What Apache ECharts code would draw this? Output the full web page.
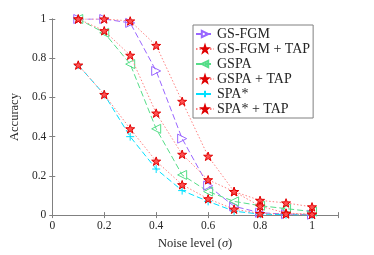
<!DOCTYPE html>
<html><head><meta charset="utf-8">
<script src="https://cdn.jsdelivr.net/npm/echarts@6/dist/echarts.min.js"></script>
<style>html,body{margin:0;padding:0;background:#fff;overflow:hidden}#c{width:374px;height:255px}</style>
</head><body><div id="c"></div>
<script>
const noise = [0.1,0.2,0.3,0.4,0.5,0.6,0.7,0.8,0.9,1.0];
const gsfgm     = [1.0,1.0,0.98,0.735,0.39,0.15,0.045,0.012,0.005,0.002];
const gsfgmTap  = [1.0,1.0,0.99,0.865,0.58,0.30,0.12,0.075,0.062,0.042];
const gspa      = [1.0,0.93,0.77,0.44,0.205,0.12,0.07,0.048,0.033,0.018];
const gspaTap   = [1.0,0.94,0.815,0.52,0.31,0.18,0.12,0.046,0.01,0.005];
const spa       = [0.765,0.615,0.40,0.235,0.125,0.07,0.02,0.005,0.002,0.001];
const spaTap    = [0.765,0.615,0.44,0.275,0.155,0.083,0.03,0.008,0.006,0.004];

const star = 'path://M0,-100L23.5,-32.4L95.1,-30.9L38,12.4L58.8,80.9L0,40L-58.8,80.9L-38,12.4L-95.1,-30.9L-23.5,-32.4Z';
const plus = 'path://M0,-100L0,100M-100,0L100,0';
const pairs = a => noise.map((x,i)=>[x,a[i]]);
const F = 'Liberation Serif, DejaVu Serif, serif';
const txt = '#262626', ax = '#808080';

function tapSeries(name, data){
  return {name, type:'line', data:pairs(data), symbol:star, symbolSize:9, symbolKeepAspect:true,
    lineStyle:{color:'#ff8080', width:1, type:[1.5,2]},
    itemStyle:{color:'#ff5050', borderColor:'#e00000', borderWidth:1}, z:5};
}
const series = [
  {name:'GS-FGM', type:'line', data:pairs(gsfgm), symbol:'triangle', symbolRotate:-90, symbolSize:9,
   lineStyle:{color:'#9966ff', width:1, type:[6,3]},
   itemStyle:{color:'rgba(255,255,255,0)', borderColor:'#9966ff', borderWidth:1}},
  tapSeries('GS-FGM + TAP', gsfgmTap),
  {name:'GSPA', type:'line', data:pairs(gspa), symbol:'triangle', symbolRotate:90, symbolSize:9,
   lineStyle:{color:'#55dd88', width:1, type:[6,3]},
   itemStyle:{color:'rgba(255,255,255,0)', borderColor:'#55dd88', borderWidth:1}},
  tapSeries('GSPA + TAP', gspaTap),
  {name:'SPA*', type:'line', data:pairs(spa), symbol:plus, symbolSize:8,
   lineStyle:{color:'#00e0ff', width:1, type:[6,3]},
   itemStyle:{color:'#00e0ff', borderColor:'#00e0ff', borderWidth:1}},
  tapSeries('SPA* + TAP', spaTap)
];

const chart = echarts.init(document.getElementById('c'), null, {renderer:'canvas'});
const fmt = v => (v > 1.05 ? '' : String(+v.toFixed(1)));
chart.setOption({
  animation:false,
  grid:{left:49, right:36, top:19, bottom:33, show:false},
  legend:{orient:'vertical', left:193, top:25, backgroundColor:'#fff', borderColor:ax, borderWidth:1,
    padding:[2,3,2,2], itemGap:1, itemWidth:18, itemHeight:8,
    textStyle:{fontFamily:F, fontSize:14, color:txt, padding:[0,0,0,-2]},
    data:series.map(s=>s.name)},
  xAxis:[
    {type:'value', min:0, max:1.1, interval:0.2, name:'Noise level ({i|σ})', nameLocation:'middle', nameGap:17,
     nameTextStyle:{fontFamily:F, fontSize:12.5, color:txt, rich:{i:{fontFamily:F, fontStyle:'italic', fontSize:12.5, color:txt}}},
     axisLine:{show:true, lineStyle:{color:ax}}, axisTick:{inside:true, length:3, lineStyle:{color:ax}},
     axisLabel:{fontFamily:F, fontSize:11.5, color:txt, margin:5, formatter:fmt}, splitLine:{show:false}},
    {type:'value', position:'top', min:0, max:1.1, interval:0.2,
     axisLine:{show:true, lineStyle:{color:ax}}, axisTick:{inside:true, length:3, lineStyle:{color:ax}},
     axisLabel:{show:false}, splitLine:{show:false}}
  ],
  yAxis:[
    {type:'value', min:0, max:1, interval:0.2, name:'Accuracy', nameLocation:'middle', nameGap:30, nameRotate:90,
     nameTextStyle:{fontFamily:F, fontSize:12.5, color:txt},
     axisLine:{show:true, lineStyle:{color:ax}}, axisTick:{inside:true, length:3, lineStyle:{color:ax}},
     axisLabel:{fontFamily:F, fontSize:11.5, color:txt, margin:6, formatter:v=>String(+v.toFixed(1))}, splitLine:{show:false}},
    {type:'value', position:'right', min:0, max:1, interval:0.2,
     axisLine:{show:true, lineStyle:{color:ax}}, axisTick:{inside:true, length:3, lineStyle:{color:ax}},
     axisLabel:{show:false}, splitLine:{show:false}}
  ],
  series
});
</script></body></html>
